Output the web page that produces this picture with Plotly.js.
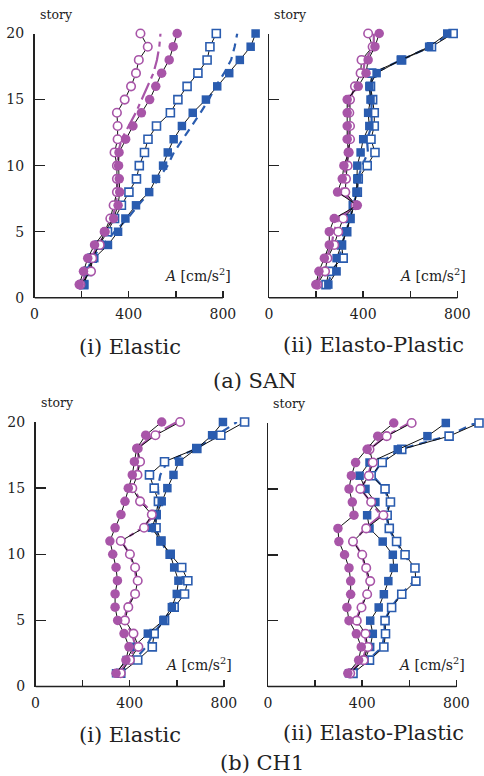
<!DOCTYPE html>
<html>
<head>
<meta charset="utf-8">
<script src="https://cdn.plot.ly/plotly-3.0.1.min.js"></script>
<style>html,body{margin:0;padding:0;background:#fff;}#chart{width:484px;height:776px;}</style>
</head>
<body>
<div id="chart"></div>
<script>
// ---- data (A [cm/s^2] per story 1..20) ----
const stories = [1,2,3,4,5,6,7,8,9,10,11,12,13,14,15,16,17,18,19,20];

// (a) SAN, (i) Elastic
const sanElPurpleFilled = [190,208,226,255,298,336,355,362,360,357,359,387,418,454,489,515,540,572,589,606];
const sanElPurpleOpen   = [195,240,245,277,298,322,336,350,350,350,340,353,353,350,383,410,431,443,481,450];
const sanElPurpleDash   = [200,220,240,270,305,330,345,352,352,352,355,370,400,430,455,480,505,520,530,535];
const sanElBlueFilled   = [211,226,254,312,355,386,431,487,516,546,566,591,626,672,728,776,827,872,918,939];
const sanElBlueOpen     = [209,226,245,275,310,340,369,401,433,445,467,482,518,577,609,648,694,733,745,772];
const sanElBlueDash     = [208,222,245,290,340,395,440,490,525,565,592,630,668,705,740,770,805,835,850,861];

// (a) SAN, (ii) Elasto-Plastic
const sanEpPurpleFilled = [199,212,235,256,256,277,375,291,311,318,338,332,332,332,332,379,412,421,450,468];
const sanEpPurpleOpen   = [205,238,248,277,294,315,368,324,327,334,338,344,344,341,344,365,389,393,440,421];
const sanEpPurpleDash   = [202,225,242,266,275,296,372,308,319,326,338,338,338,336,338,372,400,407,445,445];
const sanEpBlueFilled   = [252,287,287,308,327,344,362,372,375,375,389,400,426,421,431,426,457,560,680,757];
const sanEpBlueOpen     = [242,255,315,308,330,344,358,375,379,417,450,433,447,447,440,431,436,563,690,782];
const sanEpBlueDash     = [247,271,300,308,328,344,360,373,377,396,420,416,436,434,435,428,446,561,685,770];

// (b) CH1, (i) Elastic
const ch1ElPurpleFilled = [342,384,397,376,349,338,338,348,342,328,316,338,363,380,394,411,420,430,468,536];
const ch1ElPurpleOpen   = [362,401,437,416,380,394,423,434,423,401,362,461,494,444,411,433,444,434,509,614];
const ch1ElPurpleDash   = [355,395,425,410,375,390,420,430,420,400,365,455,505,448,415,430,440,432,500,600];
const ch1ElBlueFilled   = [342,387,416,477,543,579,600,607,589,572,532,494,515,536,560,586,610,685,750,796];
const ch1ElBlueOpen     = [362,434,496,504,548,589,633,647,621,572,533,512,512,522,504,484,548,685,787,888];
const ch1ElBlueDash     = [355,420,470,500,545,585,620,630,610,560,535,505,515,525,520,530,560,685,770,855];

// (b) CH1, (ii) Elasto-Plastic
const ch1EpPurpleFilled = [339,385,396,375,344,335,351,351,344,325,301,297,365,358,344,354,372,421,466,534];
const ch1EpPurpleOpen   = [349,406,424,414,377,397,421,434,417,400,361,417,490,438,392,428,445,431,504,610];
const ch1EpPurpleDash   = [345,400,420,410,372,395,418,430,415,398,365,412,480,435,395,425,440,430,500,600];
const ch1EpBlueFilled   = [344,410,434,445,434,470,492,511,534,530,487,431,421,456,414,389,431,551,677,755];
const ch1EpBlueOpen     = [361,431,492,499,497,525,568,628,624,582,546,515,506,520,497,438,485,568,769,896];
const ch1EpBlueDash     = [355,425,485,495,495,522,565,620,620,578,543,512,503,515,495,445,480,560,760,880];

const xTickVals = [0,200,400,600,800];
const xTickText = ['0','','400','','800'];
const yTickVals = [0,5,10,15,20];

// ---- styling ----
const PURPLE = '#a855a8';
const BLUE = '#2a5caf';
const INK = '#222222';
const FONT = 'DejaVu Serif';

const W = 484, H = 776;
function fx(px){ return px / W; }
function fy(py){ return 1 - py / H; }

const panels = [
  {xa:'x',  ya:'y',  data:[sanElPurpleFilled,sanElPurpleOpen,sanElPurpleDash,sanElBlueFilled,sanElBlueOpen,sanElBlueDash], xdom:[34.5,258.2], xmax:950, ydom:[297.8,33.5], ylabels:true},
  {xa:'x2', ya:'y2', data:[sanEpPurpleFilled,sanEpPurpleOpen,sanEpPurpleDash,sanEpBlueFilled,sanEpBlueOpen,sanEpBlueDash], xdom:[269,483.3], xmax:910, ydom:[297.8,33.5], ylabels:false},
  {xa:'x3', ya:'y3', data:[ch1ElPurpleFilled,ch1ElPurpleOpen,ch1ElPurpleDash,ch1ElBlueFilled,ch1ElBlueOpen,ch1ElBlueDash], xdom:[35.5,259.2], xmax:950, ydom:[686.5,422], ylabels:true},
  {xa:'x4', ya:'y4', data:[ch1EpPurpleFilled,ch1EpPurpleOpen,ch1EpPurpleDash,ch1EpBlueFilled,ch1EpBlueOpen,ch1EpBlueDash], xdom:[268,482.3], xmax:910, ydom:[686.5,423], ylabels:false}
];

const traces = [];
const layout = {
  width: W, height: H,
  margin: {l:0, r:0, t:0, b:0},
  paper_bgcolor: '#ffffff', plot_bgcolor: 'rgba(0,0,0,0)',
  showlegend: false,
  font: {family: FONT, color: INK, size: 14},
  shapes: [], annotations: []
};

panels.forEach((p, i) => {
  const [pf, po, pd, bf, bo, bd] = p.data;
  const common = {xaxis: p.xa, yaxis: p.ya, y: stories, cliponaxis: false, hoverinfo: 'skip'};
  traces.push(Object.assign({}, common, {x: bd, mode:'lines', line:{color: BLUE, width: 2.2, dash:'8px,6px'}}));
  traces.push(Object.assign({}, common, {x: pd, mode:'lines', line:{color: PURPLE, width: 2.2, dash:'18px,5px,5px,5px'}}));
  traces.push(Object.assign({}, common, {x: bo, mode:'lines+markers', line:{color:'#111', width:1},
    marker:{symbol:'square', size:8, color:'#ffffff', line:{color: BLUE, width:1.6}}}));
  traces.push(Object.assign({}, common, {x: bf, mode:'lines+markers', line:{color:'#111', width:1},
    marker:{symbol:'square', size:8.5, color: BLUE, line:{width:0}}}));
  traces.push(Object.assign({}, common, {x: po, mode:'lines+markers', line:{color:'#111', width:1},
    marker:{symbol:'circle', size:8.5, color:'#ffffff', line:{color: PURPLE, width:1.6}}}));
  traces.push(Object.assign({}, common, {x: pf, mode:'lines+markers', line:{color:'#111', width:1},
    marker:{symbol:'circle', size:9.5, color: PURPLE, line:{width:0}}}));

  const xk = p.xa === 'x' ? 'xaxis' : 'xaxis' + p.xa.slice(1);
  const yk = p.ya === 'y' ? 'yaxis' : 'yaxis' + p.ya.slice(1);
  layout[xk] = {
    domain: [fx(p.xdom[0]), fx(p.xdom[1])], range: [0, p.xmax], anchor: p.ya,
    showgrid:false, zeroline:false, showline:false,
    tickmode:'array', tickvals: xTickVals, ticktext: xTickText,
    ticks:'inside', ticklen:7, tickwidth:1.5, tickcolor: INK,
    tickfont:{family: FONT, size:14, color: INK}, ticklabelstandoff: 6
  };
  layout[yk] = {
    domain: [fy(p.ydom[0]), fy(p.ydom[1])], range: [0, 20], anchor: p.xa,
    showgrid:false, zeroline:false, showline:true, linecolor: INK, linewidth:1.5,
    tickmode:'array', tickvals: yTickVals,
    ticks:'inside', ticklen:10, tickwidth:1.5, tickcolor: INK,
    showticklabels: p.ylabels,
    tickfont:{family: FONT, size:14, color: INK}, ticklabelstandoff: 6
  };
  layout.shapes.push({type:'line', xref: p.xa, yref: p.ya + ' domain', x0:0, x1:800, y0:0, y1:0,
    line:{color: INK, width:1.5}, layer:'above'});
  layout.annotations.push({xref: p.xa + ' domain', yref: p.ya + ' domain', x: 0.1, y: 1, yshift: 19,
    text:'story', showarrow:false, xanchor:'center', yanchor:'middle',
    font:{family: FONT, size:12.5, color: INK}});
  layout.annotations.push({xref: p.xa, yref: p.ya, x: 845, y: 1.7,
    text:'<i>A</i> [cm/s<sup>2</sup>]', showarrow:false, xanchor:'right', yanchor:'middle',
    font:{family: FONT, size:14, color: INK}});
});

const captions = [
  {text:'(i) Elastic', px:130, py:347},
  {text:'(ii) Elasto-Plastic', px:373, py:345},
  {text:'(a) SAN', px:255, py:381},
  {text:'(i) Elastic', px:130, py:735},
  {text:'(ii) Elasto-Plastic', px:373, py:733},
  {text:'(b) CH1', px:262, py:763}
];
captions.forEach(c => layout.annotations.push({xref:'paper', yref:'paper', x: fx(c.px), y: fy(c.py),
  text: c.text, showarrow:false, xanchor:'center', yanchor:'middle',
  font:{family: FONT, size:21, color: INK}}));

Plotly.newPlot('chart', traces, layout, {displayModeBar:false, staticPlot:true});
</script>
</body>
</html>
